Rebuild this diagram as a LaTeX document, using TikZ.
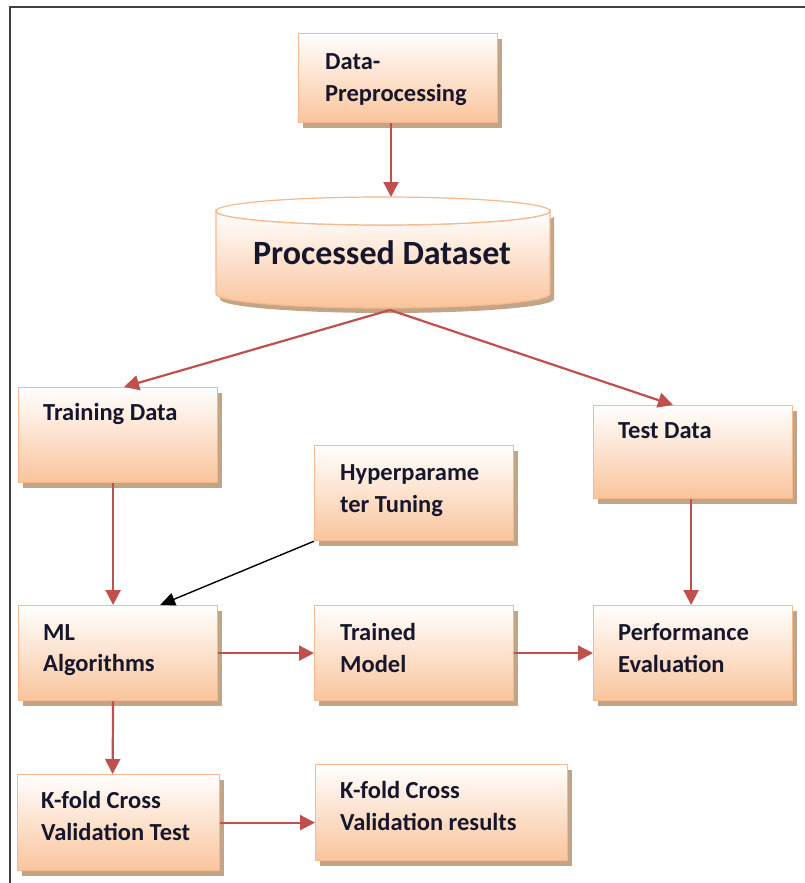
\documentclass[tikz,border=0pt]{standalone}
\usepackage{fontspec}
\setmainfont{Carlito}
\usetikzlibrary{arrows.meta,calc,shadows}
\definecolor{peach}{HTML}{FAC49C}
\definecolor{boxline}{HTML}{F6B88C}
\definecolor{shadowc}{HTML}{C2A487}
\definecolor{arrowred}{HTML}{C0504D}
\definecolor{txtc}{HTML}{17172C}
\definecolor{framec}{HTML}{404040}
\begin{document}
\begin{tikzpicture}[x=1pt,y=-1pt,
  box/.style={draw=boxline, line width=1.2pt, top color=white, bottom color=peach,
    minimum width=#1, minimum height=95pt, inner sep=0pt, anchor=north west,
    drop shadow={shadow xshift=4pt, shadow yshift=-5pt, fill=shadowc, opacity=1}},
  box/.default=199pt,
  lbl/.style={font=\fontsize{24.5}{30}\selectfont\bfseries, text=txtc, inner sep=0pt, anchor=base west},
  rarrow/.style={draw=arrowred, line width=2.2pt, -{Triangle[width=15pt,length=15pt]}, arrowred},
  barrow/.style={draw=black, line width=1.4pt, -{Triangle[width=13pt,length=15pt]}},
]
\useasboundingbox (0,0) rectangle (805,883);
\fill[white] (0,0) rectangle (805,883);
\draw[framec, line width=2pt] (10,883) -- (10,7) -- (805,7);

% boxes
\node[box, minimum height=89pt] (dp) at (298,33) {};
\node[box] (td) at (18,387) {};
\node[box, minimum height=93pt] (tsd) at (593,405) {};
\node[box] (hyp) at (314,445) {};
\node[box] (ml) at (18,605) {};
\node[box] (tm) at (314,605) {};
\node[box] (pe) at (593,605) {};
\node[box, minimum width=202pt, minimum height=96pt] (kt) at (17,774) {};
\node[box, minimum width=252pt, minimum height=96pt] (kr) at (315,764) {};

% cylinder
\fill[shadowc] (220,216) -- (220,299) arc[start angle=180, end angle=0, x radius=167, y radius=14]
  -- (554,216) arc[start angle=0, end angle=180, x radius=167, y radius=14] -- cycle;
\path[draw=boxline, line width=1.2pt, top color=white, bottom color=peach]
  (216,211) -- (216,294) arc[start angle=180, end angle=0, x radius=167, y radius=14]
  -- (550,211) arc[start angle=0, end angle=180, x radius=167, y radius=14] -- cycle;
\draw[boxline, line width=1.2pt, fill=white] (383,211) ellipse [x radius=167, y radius=14];
\node[font=\fontsize{34}{40}\selectfont\bfseries, text=txtc, inner sep=0pt] (cyl) at (382,253) {Processed Dataset};
\coordinate (cyltop) at (391,197);
\coordinate (cylbot) at (390,310);

% labels
\node[lbl] (dp1) at (325,70) {Data-};
\node[lbl] (dp2) at (325,101) {Preprocessing};
\node[lbl] (td1) at (43,420) {Training Data};
\node[lbl] (tsd1) at (618,438) {Test Data};
\node[lbl] (hyp1) at (340,480) {Hyperparame};
\node[lbl] (hyp2) at (340,512) {ter Tuning};
\node[lbl] (ml1) at (43,640) {ML};
\node[lbl] (ml2) at (43,671) {Algorithms};
\node[lbl] (tm1) at (340,640) {Trained};
\node[lbl] (tm2) at (340,672) {Model};
\node[lbl] (pe1) at (618,640) {Performance};
\node[lbl] (pe2) at (618,672) {Evaluation};
\node[lbl] (kt1) at (41,808) {K-fold Cross};
\node[lbl] (kt2) at (41,840) {Validation Test};
\node[lbl] (kr1) at (340,798) {K-fold Cross};
\node[lbl] (kr2) at (340,830) {Validation results};

% connectors
\draw[rarrow] (dp.south -| cyltop) -- (cyltop);
\draw[rarrow] (cylbot) -- ($(td.north west)+(106,0)$);
\draw[rarrow] (cylbot) -- ($(tsd.north west)+(80,0)$);
\draw[rarrow] ($(td.south)+(-5,0)$) -- ($(ml.north)+(-5,0)$);
\draw[rarrow] ($(tsd.south)+(-2,0)$) -- ($(pe.north)+(-2,0)$);
\draw[barrow] (hyp.south west) -- ($(ml.north)+(42,0)$);
\draw[rarrow] (ml.east) -- (tm.west);
\draw[rarrow] (tm.east) -- (pe.west);
\draw[rarrow] ($(ml.south)+(-5,0)$) -- ($(kt.north)+(-6,0)$);
\draw[rarrow] (kt.east) -- (kt.east -| kr.west);
\end{tikzpicture}
\end{document}
